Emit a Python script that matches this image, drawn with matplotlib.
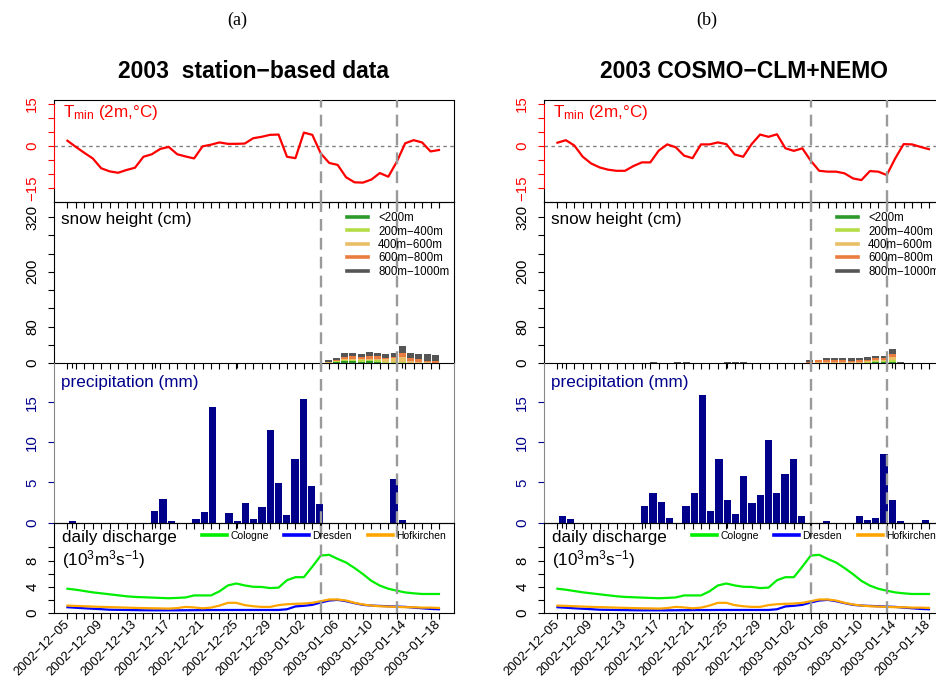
import matplotlib
matplotlib.use('Agg')
import matplotlib.pyplot as plt
from matplotlib.lines import Line2D
import numpy as np
import pandas as pd

plt.rcParams['font.family'] = ['Liberation Sans', 'DejaVu Sans']
plt.rcParams['mathtext.fontset'] = 'custom'
plt.rcParams['mathtext.rm'] = 'Liberation Sans'
plt.rcParams['mathtext.it'] = 'Liberation Sans:italic'
plt.rcParams['mathtext.bf'] = 'Liberation Sans:bold'

# ---- data ----
dates = pd.date_range('2002-12-05', '2003-01-18', freq='D')
event_days = ['2003-01-04', '2003-01-13']

# daily minimum 2m temperature (deg C)
tmin_station = [1.8, -0.4, -2.5, -4.5, -8.0, -9.1, -9.6, -8.6, -7.8, -3.9,
                -3.0, -1.1, -0.4, -3.0, -3.8, -4.5, -0.2, 0.4, 1.2, 0.7,
                0.7, 0.8, 2.7, 3.2, 3.9, 4.0, -3.9, -4.4, 4.7, 3.9,
                -2.7, -6.1, -6.8, -11.2, -13.0, -13.1, -12.0, -9.7, -11.0, -5.7,
                0.9, 2.0, 1.2, -2.0, -1.5]
tmin_model = [1.1, 2.0, 0.1, -3.9, -6.3, -7.7, -8.5, -8.9, -8.9, -7.2,
              -5.9, -5.9, -1.7, 0.5, -0.5, -3.5, -4.4, 0.5, 0.5, 1.2,
              0.6, -3.1, -3.9, 0.6, 4.0, 3.2, 4.1, -0.9, -1.8, -0.9,
              -5.3, -8.9, -9.2, -9.2, -9.8, -11.6, -12.2, -9.0, -9.2, -10.4,
              -4.5, 0.6, 0.5, -0.4, -1.2]

# snow height (cm) per elevation band
snow_classes = ['<200m', '200m\u2212400m', '400m\u2212600m', '600m\u2212800m', '800m\u22121000m']
snow_colors = ['#2b9a2b', '#b4dc46', '#e8be66', '#e97c40', '#555555']

st_lt200 = [0] * 31 + [0.3, 2.2, 3.6, 3.6, 2.9, 3.6, 2.9, 0.7, 0.7, 0.5, 0.3, 0.3, 0.0, 0.0]
st_200_400 = [0] * 31 + [0.3, 1.5, 3.6, 2.9, 2.9, 2.9, 2.9, 1.5, 1.5, 1.0, 0.4, 0.4, 0.3, 0.0]
st_400_600 = [0] * 31 + [0.7, 1.5, 2.2, 2.9, 2.9, 2.2, 2.9, 5.8, 8.0, 11.0, 2.9, 2.2, 1.2, 0.7]
st_600_800 = [0] * 31 + [1.5, 2.2, 4.4, 5.1, 3.6, 5.8, 5.8, 3.6, 3.6, 10.2, 6.6, 5.1, 3.6, 4.4]
st_800_1000 = [0] * 31 + [4.5, 4.4, 8.8, 8.0, 8.0, 10.2, 8.0, 8.8, 8.8, 15.3, 12.4, 12.4, 13.9, 11.7]

md_lt200 = [0] * 30 + [0, 0.3, 0.3, 0.3, 0.3, 0.3, 0.3, 0.7, 2.2, 2.2, 2.2, 0] + [0] * 3
md_200_400 = [0] * 30 + [0, 0.4, 0.4, 0.4, 0.4, 0.4, 0.4, 1.5, 2.2, 2.2, 4.4, 0] + [0] * 3
md_400_600 = [0] * 30 + [0, 0.7, 0.7, 0.7, 0.7, 0.7, 1.2, 2.9, 2.2, 2.9, 5.8, 0] + [0] * 3
md_600_800 = [0] * 30 + [2.0, 4.4, 4.4, 4.4, 4.4, 3.6, 3.6, 2.2, 3.6, 3.6, 8.0, 0] + [0] * 3
md_800_1000 = ([0] * 11 + [2.0, 0, 0, 2.0, 2.0, 0, 0, 0, 0, 2.0, 2.0, 2.0] + [0] * 7
               + [5.3, 1.5, 5.8, 5.8, 5.8, 5.1, 5.8, 5.8, 5.8, 5.1, 10.9, 3.0] + [0] * 3)

# daily precipitation (mm)
precip_station = [0.15, 0, 0, 0, 0, 0, 0, 0, 0, 0,
                  1.43, 2.94, 0.17, 0, 0, 0.42, 1.3, 14.4, 0, 1.18,
                  0.17, 2.44, 0.42, 1.93, 11.5, 4.96, 0.92, 7.98, 15.4, 4.58,
                  2.31, 0, 0, 0, 0, 0, 0, 0, 0, 5.46,
                  0.29, 0, 0, 0, 0]
precip_model = [0.8, 0.42, 0, 0, 0, 0, 0, 0, 0, 0,
                2.06, 3.7, 2.56, 0.55, 0, 2.06, 3.7, 15.9, 1.43, 7.98,
                2.82, 1.05, 5.84, 2.44, 3.45, 10.25, 3.7, 6.09, 7.98, 0.8,
                0, 0, 0.17, 0, 0, 0, 0.8, 0.29, 0.55, 8.6,
                2.82, 0.17, 0, 0, 0.29]

# observed daily discharge (10^3 m^3/s)
q_cologne = [3.7, 3.55, 3.35, 3.15, 3.0, 2.85, 2.7, 2.55, 2.45, 2.4,
             2.35, 2.3, 2.25, 2.3, 2.37, 2.68, 2.68, 2.68, 3.3, 4.2,
             4.5, 4.2, 4.0, 3.97, 3.8, 3.87, 5.0, 5.46, 5.46, 7.06,
             8.76, 8.87, 8.25, 7.7, 6.86, 5.93, 4.9, 4.18, 3.7, 3.4,
             3.14, 3.0, 2.9, 2.9, 2.9]
q_dresden = [0.88, 0.8, 0.72, 0.65, 0.58, 0.5, 0.48, 0.46, 0.44, 0.42,
             0.41, 0.41, 0.41, 0.41, 0.42, 0.43, 0.44, 0.45, 0.45, 0.46,
             0.46, 0.46, 0.46, 0.46, 0.46, 0.46, 0.57, 1.0, 1.1, 1.24,
             1.6, 1.9, 2.0, 1.8, 1.5, 1.24, 1.13, 1.08, 1.03, 0.98,
             0.93, 0.82, 0.72, 0.62, 0.57]
q_hofkirchen = [1.13, 1.08, 1.03, 0.98, 0.93, 0.9, 0.86, 0.82, 0.78, 0.75,
                0.72, 0.7, 0.67, 0.75, 0.93, 0.85, 0.72, 0.82, 1.13, 1.55,
                1.55, 1.2, 1.03, 0.93, 0.93, 1.2, 1.34, 1.4, 1.44, 1.55,
                1.8, 2.06, 2.06, 1.9, 1.55, 1.3, 1.13, 1.03, 0.98, 0.93,
                0.88, 0.88, 0.82, 0.82, 0.77]
gauges = ['Cologne', 'Dresden', 'Hofkirchen']
gauge_colors = ['#00ee00', '#0000ff', '#ffa500']

# ---- layout ----
W, H = 936, 680
x = np.arange(len(dates))
event_idx = dates.get_indexer(pd.to_datetime(event_days))
xl_line = (-1.65, 45.78)
xl_bar = (-2.28, 46.27)
tick_lbls = [d.strftime('%Y\u2212%m\u2212%d') if i % 4 == 0 else '' for i, d in enumerate(dates)]
NAVY = '#00008b'

fig = plt.figure(figsize=(W / 100, H / 100), dpi=100)


def rect(left, top, bottom):
    return [left / W, 1 - bottom / H, 400.5 / W, (bottom - top) / H]


def day_axis(a):
    a.set_xlim(xl_line)
    a.set_xticks(x)
    a.xaxis.set_ticks_position('bottom')
    a.tick_params(axis='x', direction='out', length=4.3, width=0.8, labelbottom=False)
    for d in event_idx:
        a.axvline(d, color='#9a9a9a', lw=1.7, ls=(0, (5, 3)), zorder=5)


def y_axis(a, ticks, labels, color):
    a.set_yticks(ticks)
    a.set_yticklabels(labels)
    a.tick_params(axis='y', direction='out', length=4.3, width=0.8, colors=color,
                  labelsize=10.8, pad=6, labelrotation=90)
    for t in a.get_yticklabels():
        t.set_va('center')


def label(a, txt, dx, dy, color='black', size=12.3):
    a.annotate(txt, xy=(0, 1), xycoords='axes fraction', xytext=(dx, dy),
               textcoords='offset points', ha='left', va='top', color=color, fontsize=size)


def column(left, title, letter, letter_x, tmin, snow_layers, precip):
    # temperature
    ax = fig.add_axes(rect(left, 100, 202), facecolor='none')
    ax.plot(x, tmin, color='red', lw=1.6, zorder=3)
    ax.axhline(0, color='#808080', lw=1, ls=(0, (2.5, 2.5)))
    ax.set_ylim(-20, 16.3)
    day_axis(ax)
    y_axis(ax, [-15, -10, -5, 0, 5, 10, 15], ['\u221215', '', '', '0', '', '', '15'], 'red')
    ax.spines['left'].set_bounds(-15, 15)
    ax.spines['left'].set_color('red')
    ax.plot([0, 0], [-20, -15], transform=ax.get_yaxis_transform(), color='black', lw=0.8, clip_on=False)
    ax.plot([0, 0], [15, 16.3], transform=ax.get_yaxis_transform(), color='black', lw=0.8, clip_on=False)
    label(ax, r'T$_{\mathrm{min}}$ (2m,°C)', 7, -2.5, color='red')
    fig.text((left + 200) / W, 1 - 72 / H, title, ha='center', va='center',
             fontsize=16.5, fontweight='bold')
    fig.text(letter_x / W, 1 - 20 / H, letter, ha='center', va='center',
             fontsize=13, family='Liberation Serif')

    # snow height
    ab = fig.add_axes(rect(left, 202, 363), facecolor='none')
    bottom = np.zeros(len(x))
    for vals, col in zip(snow_layers, snow_colors):
        ab.bar(x, vals, width=0.85, bottom=bottom, color=col, linewidth=0)
        bottom += np.array(vals)
    ab.set_xlim(xl_bar)
    ab.set_ylim(0, 353)
    ab.tick_params(axis='x', bottom=False, labelbottom=False)
    y_axis(ab, range(0, 321, 40), ['0', '', '80', '', '', '200', '', '', '320'], 'black')
    al = ab.twiny()
    day_axis(al)
    for s in al.spines.values():
        s.set_visible(False)
    label(ab, 'snow height (cm)', 5.2, -7)
    handles = [Line2D([], [], color=c, lw=2.6) for c in snow_colors]
    al.legend(handles, snow_classes, loc='upper left', bbox_to_anchor=(0.733, 0.937),
              frameon=False, fontsize=8.3, handlelength=1.85, handletextpad=0.85,
              labelspacing=0.12, borderpad=0, borderaxespad=0)

    # precipitation
    ap = fig.add_axes(rect(left, 363, 522.5), facecolor='none')
    ap.bar(x, precip, width=0.87, color=NAVY, linewidth=0)
    ap.set_xlim(xl_bar)
    ap.set_ylim(0, 19.9)
    ap.tick_params(axis='x', bottom=False, labelbottom=False)
    y_axis(ap, [0, 5, 10, 15], ['0', '5', '10', '15'], NAVY)
    for s in ('left', 'right'):
        ap.spines[s].set_color('#888888')
    ap.spines['top'].set_visible(False)
    apl = ap.twiny()
    day_axis(apl)
    for s in apl.spines.values():
        s.set_visible(False)
    label(ap, 'precipitation (mm)', 5.4, -8.6, color=NAVY)

    # discharge
    ad = fig.add_axes(rect(left, 522.5, 613), facecolor='none')
    for q, col in zip([q_cologne, q_dresden, q_hofkirchen], gauge_colors):
        ad.plot(x, q, color=col, lw=1.6)
    ad.set_ylim(0, 13.8)
    day_axis(ad)
    ad.set_xticklabels(tick_lbls, rotation=45, ha='right', va='center',
                       rotation_mode='anchor', fontsize=9.3)
    ad.tick_params(axis='x', labelbottom=True, pad=2.5)
    y_axis(ad, [0, 2, 4, 6, 8, 10], ['0', '', '4', '', '8', ''], 'black')
    label(ad, 'daily discharge', 6.3, -5.4)
    label(ad, r'(10$^{3}$m$^{3}$s$^{-1}$)', 6.3, -18.5)
    gh = [Line2D([], [], color=c, lw=2.6) for c in gauge_colors]
    ad.legend(gh, gauges, loc='upper left', bbox_to_anchor=(0.371, 0.91), ncol=3,
              frameon=False, fontsize=7.5, handlelength=2.4, handletextpad=0.3,
              columnspacing=1.5, borderpad=0, borderaxespad=0)


column(53.5, '2003  station\u2212based data', '(a)', 237,
       tmin_station, [st_lt200, st_200_400, st_400_600, st_600_800, st_800_1000], precip_station)
column(543.5, '2003 COSMO\u2212CLM+NEMO', '(b)', 707,
       tmin_model, [md_lt200, md_200_400, md_400_600, md_600_800, md_800_1000], precip_model)

fig.savefig('out.png', dpi=100)
